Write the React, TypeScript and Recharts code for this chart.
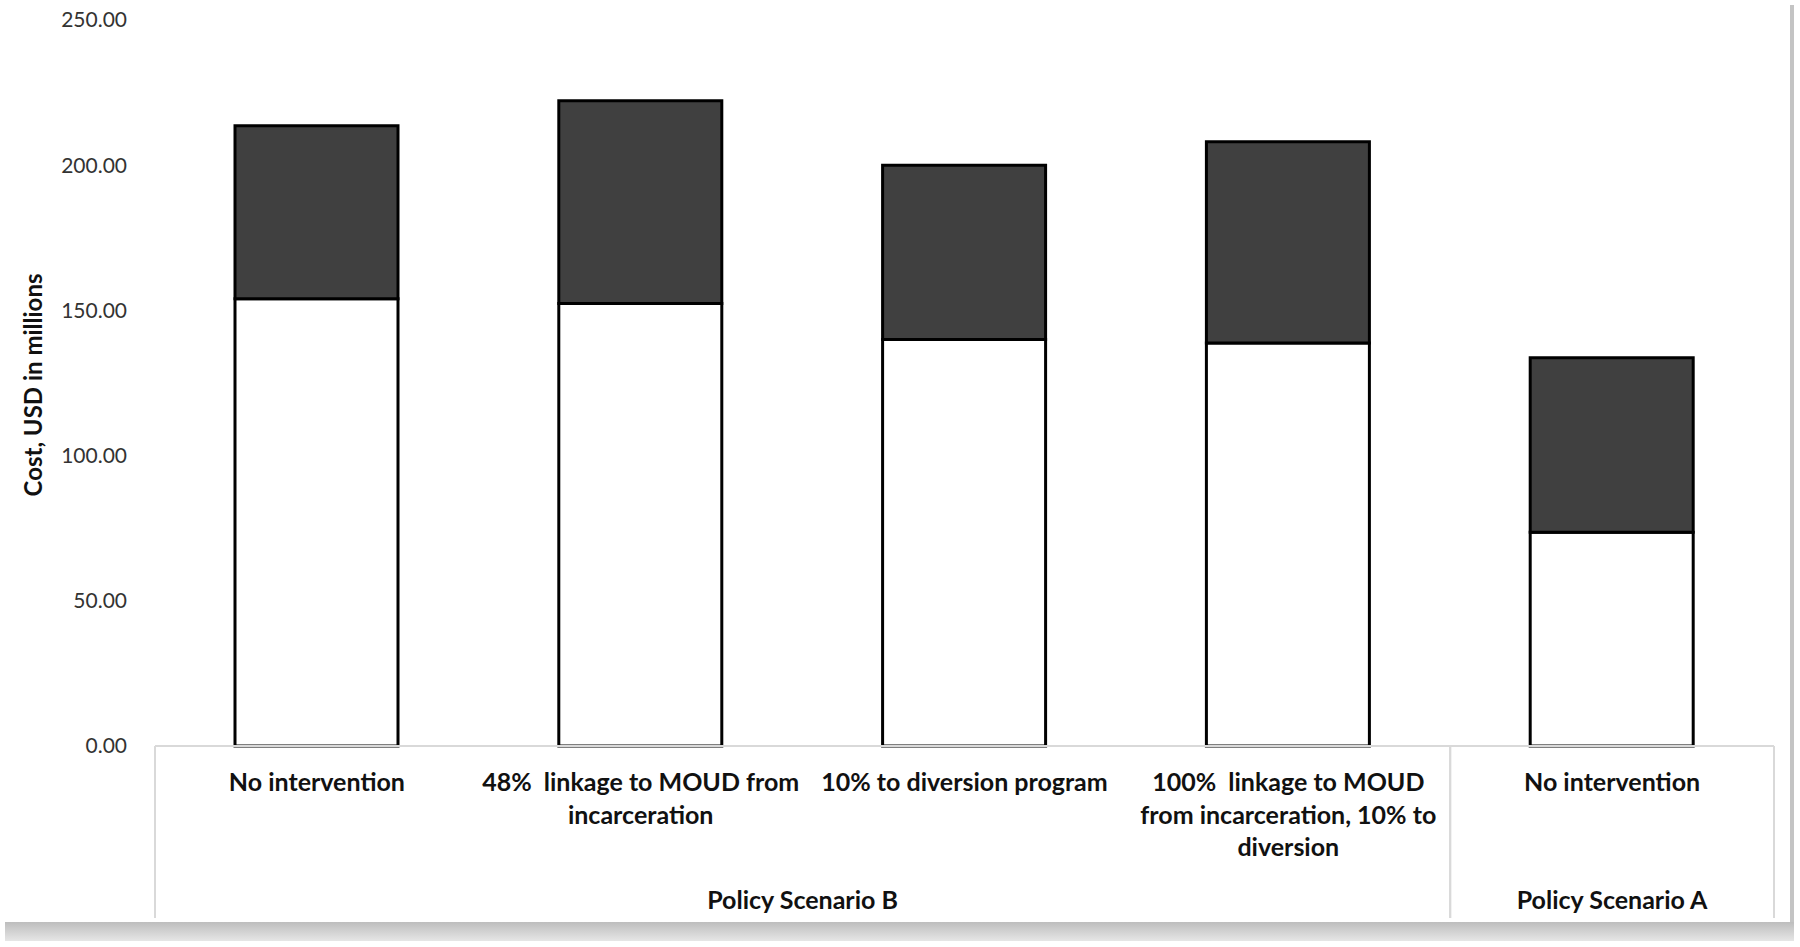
import { BarChart, Bar, XAxis, YAxis } from "recharts"

// category labels, already broken into lines as in the source figure
const categoryLines = [
  ["No intervention"],
  ["48%  linkage to MOUD from", "incarceration"],
  ["10% to diversion program"],
  ["100%  linkage to MOUD", "from incarceration, 10% to", "diversion"],
  ["No intervention"],
]
const groupNames = [
  "Policy Scenario B",
  "Policy Scenario B",
  "Policy Scenario B",
  "Policy Scenario B",
  "Policy Scenario A",
]
// lower (white) and upper (dark) segments, USD millions
const baseCost = [154.0, 152.4, 140.0, 138.8, 73.6]
const addedCost = [59.6, 69.8, 60.0, 69.3, 60.1]
const yTicks = [0, 50, 100, 150, 200, 250]

const W = 1800
const H = 947
const Y_AXIS_W = 155
const X_AXIS_H = 201
const MARGIN = { top: 20, right: 26, left: 0, bottom: 0 }
const PLOT_W = W - Y_AXIS_W - MARGIN.right
const FONT = "Lato, 'Open Sans', sans-serif"
const FRAME = "#d9d9d9"

const data = categoryLines.map((lines, i) => ({
  key: `c${i}`,
  base: baseCost[i],
  added: addedCost[i],
}))

const CategoryTick = (props: any) => {
  const { x, y, payload } = props
  const i = data.findIndex(d => d.key === payload.value)
  if (i < 0) return null
  const step = PLOT_W / data.length
  const group = groupNames[i]
  const first = i === 0 || groupNames[i - 1] !== group
  const last = i === data.length - 1 || groupNames[i + 1] !== group
  let count = 0
  if (first) {
    while (i + count < groupNames.length && groupNames[i + count] === group) count++
  }
  return (
    <g>
      <text
        x={x}
        y={y + 45}
        textAnchor="middle"
        fontFamily={FONT}
        fontWeight={700}
        fontSize={25}
        fill="#111"
        style={{ whiteSpace: "pre" }}
      >
        {categoryLines[i].map((line, k) => (
          <tspan key={k} x={x} dy={k === 0 ? 0 : 32.5}>
            {line}
          </tspan>
        ))}
      </text>
      {first && (
        <>
          <line x1={x - step / 2} x2={x - step / 2} y1={y} y2={y + 172} stroke={FRAME} strokeWidth={2} />
          <text
            x={x - step / 2 + (count * step) / 2}
            y={y + 163}
            textAnchor="middle"
            fontFamily={FONT}
            fontWeight={700}
            fontSize={25}
            fill="#111"
          >
            {group}
          </text>
        </>
      )}
      {last && (
        <line x1={x + step / 2} x2={x + step / 2} y1={y} y2={y + 172} stroke={FRAME} strokeWidth={2} />
      )}
    </g>
  )
}

const AxisTitle = () => (
  <text
    x={32}
    y={385}
    transform="rotate(-90, 32, 385)"
    textAnchor="middle"
    dominantBaseline="central"
    fontFamily={FONT}
    fontWeight={700}
    fontSize={24}
    fill="#111"
  >
    Cost, USD in millions
  </text>
)

const App = () => {
  return (
    <div style={{ position: "absolute", left: 0, top: 0, width: W, height: H, background: "#fff" }}>
      <BarChart width={W} height={H} data={data} margin={MARGIN}>
        <XAxis
          dataKey="key"
          height={X_AXIS_H}
          interval={0}
          tickLine={false}
          tickSize={0}
          tickMargin={0}
          axisLine={{ stroke: FRAME, strokeWidth: 2 }}
          tick={<CategoryTick />}
        />
        <YAxis
          width={Y_AXIS_W}
          domain={[0, 250]}
          ticks={yTicks}
          axisLine={false}
          tickLine={false}
          tickSize={0}
          tickMargin={28}
          tickFormatter={(v: number) => v.toFixed(2)}
          tick={{ fontFamily: FONT, fontSize: 21, fill: "#333" }}
          label={{ content: () => <AxisTitle /> }}
        />
        <Bar dataKey="base" stackId="a" fill="#ffffff" stroke="#000" strokeWidth={3} barSize={163} isAnimationActive={false} />
        <Bar dataKey="added" stackId="a" fill="#404040" stroke="#000" strokeWidth={3} barSize={163} isAnimationActive={false} />
      </BarChart>
      {/* drop shadow of the pasted chart frame */}
      <div style={{ position: "absolute", left: 1790, top: 5, width: 4, height: 925, background: "#c4c4c4" }} />
      <div
        style={{
          position: "absolute",
          left: 5,
          top: 922,
          width: 1789,
          height: 19,
          background: "linear-gradient(#bdbdbd, #e6e6e6)",
        }}
      />
    </div>
  )
}

export default App
